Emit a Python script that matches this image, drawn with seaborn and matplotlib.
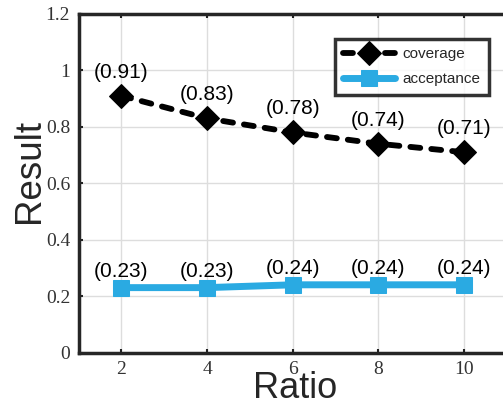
import matplotlib
matplotlib.use("Agg")
import matplotlib.pyplot as plt
import seaborn as sns
import pandas as pd

ratio = [2, 4, 6, 8, 10]
coverage = [0.91, 0.83, 0.78, 0.74, 0.71]
acceptance = [0.23, 0.23, 0.24, 0.24, 0.24]
xticks = [2, 4, 6, 8, 10]
yticks = [0, 0.2, 0.4, 0.6, 0.8, 1.0, 1.2]
yticklabels = ["0", "0.2", "0.4", "0.6", "0.8", "1", "1.2"]

sns.set_theme(style="whitegrid")
plt.rcParams['font.family'] = ['Liberation Sans', 'DejaVu Sans']

df = pd.DataFrame({"Ratio": ratio + ratio,
                   "Result": coverage + acceptance,
                   "series": ["coverage"] * 5 + ["acceptance"] * 5})

fig = plt.figure(figsize=(5.03, 4.09), dpi=100)
ax = fig.add_axes([78.5 / 503, 1 - 352.5 / 409, (507 - 78.5) / 503, (352.5 - 14) / 409])

cov = df[df.series == "coverage"]
acc = df[df.series == "acceptance"]
sns.lineplot(data=cov, x="Ratio", y="Result", ax=ax, color="black", lw=4.2,
             linestyle=(0, (1.7, 1.9)), dash_capstyle="round",
             marker="D", markersize=12.5, markeredgecolor="black",
             label="coverage")
sns.lineplot(data=acc, x="Ratio", y="Result", ax=ax, color="#2aaae2", lw=5,
             marker="s", markersize=11, markeredgecolor="#2aaae2", label="acceptance")

for x, y in zip(ratio, coverage):
    ax.annotate(f"({y:.2f})", (x, y), xytext=(0, 17), textcoords="offset points",
                ha="center", va="center", fontsize=15, color="black")
for x, y in zip(ratio, acceptance):
    ax.annotate(f"({y:.2f})", (x, y), xytext=(0, 11.5), textcoords="offset points",
                ha="center", va="center", fontsize=15, color="black")

ax.set_xlim(1, 11)
ax.set_ylim(0, 1.2)
ax.set_xticks(xticks)
ax.set_yticks(yticks)
ax.set_yticklabels(yticklabels)
for lab in ax.get_xticklabels() + ax.get_yticklabels():
    lab.set_fontfamily("Liberation Serif")
    lab.set_fontsize(14)
    lab.set_color("#333333")
ax.tick_params(direction="in", length=3, width=1.5, color="#222222", pad=6,
               top=True, right=True, bottom=True, left=True)
ax.grid(True, color="#dddddd", lw=1)
for s in ax.spines.values():
    s.set_visible(True)
    s.set_color("#262626")
    s.set_linewidth(2.5)

ax.set_xlabel("Ratio", fontsize=26, color="#262626", va="center")
ax.set_ylabel("Result", fontsize=26.5, color="#262626", va="center")
ax.xaxis.set_label_coords((295 - 78.5) / 428.5, (352.5 - 389) / 338.5)
ax.yaxis.set_label_coords((30 - 78.5) / 428.5, (352.5 - 171) / 338.5)

leg = ax.legend(loc="upper right", bbox_to_anchor=((489 - 78.5) / 428.5, (352.5 - 39) / 338.5),
                borderaxespad=0,
                fontsize=11, frameon=True, fancybox=False, handlelength=3.4,
                borderpad=0.55, labelspacing=0.7, handletextpad=0.5)
leg.get_frame().set_edgecolor("black")
leg.get_frame().set_linewidth(2.5)

fig.savefig("out.png", dpi=100)
